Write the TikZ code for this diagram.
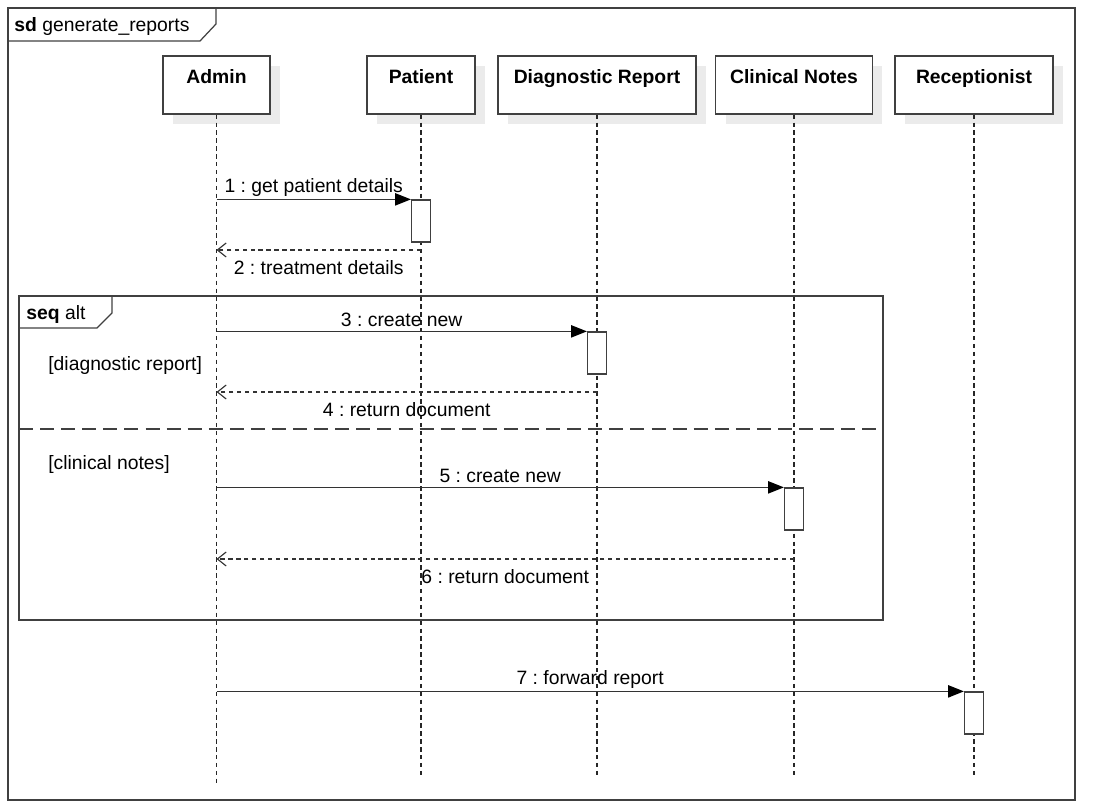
\documentclass[tikz,border=0pt]{standalone}
\usepackage{fontspec}
\setmainfont[Scale=1.1]{Liberation Sans}
\usetikzlibrary{positioning,arrows.meta,shadows}
\frenchspacing

\tikzset{
  box/.style={draw=black!75, line width=0.7pt},
  lifehead/.style={box, fill=white, minimum width=#1, minimum height=1.16cm, inner sep=0pt,
    drop shadow={shadow xshift=0.2cm, shadow yshift=-0.2cm, fill=black!8, opacity=1, draw=none}},
  headtext/.style={font=\bfseries, inner sep=0pt},
  act/.style={box, fill=white, minimum width=0.38cm, minimum height=0.84cm, inner sep=0pt},
  lifeline/.style={black!85, line width=0.6pt, dash pattern=on 2.5pt off 2pt},
  msg/.style={black!80, line width=0.75pt, -{Triangle[length=9pt,width=7pt,color=black]}},
  ret/.style={black!80, line width=0.65pt, dash pattern=on 2.5pt off 2pt, -{Straight Barb[length=5pt,width=8pt]}},
  lbl/.style={inner sep=1.5pt, text=black}
}

\begin{document}
\begin{tikzpicture}[x=0.02cm, y=-0.02cm]
\useasboundingbox (0,0) rectangle (1099,807);
\draw[box] (8,8) rectangle (1075,800);
\draw[box] (8,41) -- (200,41) -- (216,24) -- (216,8);
\node[anchor=west, inner sep=0pt] (sdname) at (14,26.5) {\textbf{sd} generate\_reports};

\node[lifehead=2.14cm] (admin) at (216.5,85) {};
\node[lifehead=2.16cm] (patient) at (421,85) {};
\node[lifehead=3.96cm] (diag) at (597,85) {};
\node[lifehead=3.14cm] (clinical) at (794,85) {};
\node[lifehead=3.16cm] (recep) at (974,85) {};
\node[headtext, below=0.28cm of admin.north] (adminname) {Admin};
\node[headtext, below=0.28cm of patient.north] (patientname) {Patient};
\node[headtext, below=0.28cm of diag.north] (diagname) {Diagnostic Report};
\node[headtext, below=0.28cm of clinical.north] (clinicalname) {Clinical Notes};
\node[headtext, below=0.28cm of recep.north] (recepname) {Receptionist};

\coordinate (adminend) at (0,785);
\coordinate (lineend) at (0,775);
\draw[lifeline] (admin.south) -- (admin.south |- adminend);
\draw[lifeline] (patient.south) -- (patient.south |- lineend);
\draw[lifeline] (diag.south) -- (diag.south |- lineend);
\draw[lifeline] (clinical.south) -- (clinical.south |- lineend);
\draw[lifeline] (recep.south) -- (recep.south |- lineend);

\draw[box] (19,296) rectangle (883,620);
\draw[box] (19,328) -- (97,328) -- (112,313) -- (112,296);
\node[anchor=west, inner sep=0pt] (altname) at (26,314.5) {\textbf{seq} alt};
\draw[box, dash pattern=on 8pt off 4pt] (19,429) -- (883,429);
\node[anchor=west, inner sep=0pt] (guardone) at (48,365.5) {[diagnostic report]};
\node[anchor=west, inner sep=0pt] (guardtwo) at (48,464.5) {[clinical notes]};

\node[act] (patientact) at (421,221) {};
\node[act] (diagact) at (597,353) {};
\node[act] (clinicalact) at (794,509) {};
\node[act] (recepact) at (974,713) {};

\coordinate (rettwo) at (421,250);
\coordinate (retfour) at (597,392);
\coordinate (retsix) at (794,559);

\draw[msg] (admin.south |- patientact.north) -- (patientact.north west)
  node[lbl, midway, above] {1 : get patient details};
\draw[ret] (rettwo) -- (admin.south |- rettwo)
  node[lbl, midway, below=4pt] {2 : treatment details};
\draw[msg] (admin.south |- diagact.north) -- (diagact.north west)
  node[lbl, midway, above, yshift=1pt] {3 : create new};
\draw[ret] (retfour) -- (admin.south |- retfour)
  node[lbl, midway, below=4pt] {4 : return document};
\draw[msg] (admin.south |- clinicalact.north) -- (clinicalact.north west)
  node[lbl, midway, above, yshift=1pt] {5 : create new};
\draw[ret] (retsix) -- (admin.south |- retsix)
  node[lbl, midway, below=4pt] {6 : return document};
\draw[msg] (admin.south |- recepact.north) -- (recepact.north west)
  node[lbl, midway, above] {7 : forward report};

\end{tikzpicture}
\end{document}
